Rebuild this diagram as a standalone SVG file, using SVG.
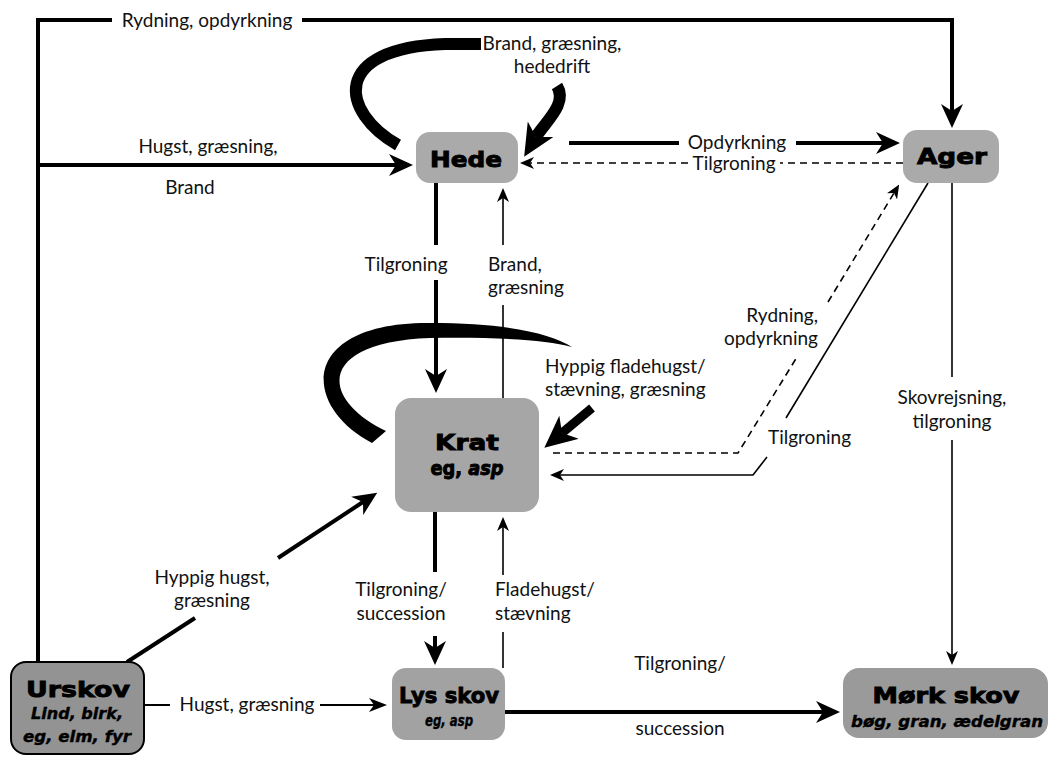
<svg xmlns="http://www.w3.org/2000/svg" width="1056" height="758" viewBox="0 0 1056 758">
<style>
.lbl{font-family:Lato,"Liberation Sans",sans-serif;font-size:19px;fill:#111}
.ttl{font-family:"DejaVu Sans",sans-serif;font-weight:bold;font-size:22px;fill:#000;stroke:#000;stroke-width:0.9}
.sub{font-family:"DejaVu Sans",sans-serif;font-weight:bold;font-style:italic;font-size:15px;fill:#000;stroke:#000;stroke-width:0.4}
.box{stroke:none}
.thick{fill:none;stroke:#000;stroke-width:4}
.med{fill:none;stroke:#000;stroke-width:2}
.thin{fill:none;stroke:#000;stroke-width:1.6}
.dash{fill:none;stroke:#000;stroke-width:1.6;stroke-dasharray:7 5}
</style>
<defs>
<marker id="big" markerUnits="userSpaceOnUse" viewBox="0 0 24 22" markerWidth="24" markerHeight="22" refX="7" refY="11" orient="auto"><path d="M0,0 L24,11 L0,22 L7,11 Z" fill="#000"/></marker>
<marker id="mid" markerUnits="userSpaceOnUse" viewBox="0 0 18 14" markerWidth="18" markerHeight="14" refX="5" refY="7" orient="auto"><path d="M0,0 L18,7 L0,14 L5,7 Z" fill="#000"/></marker>
<marker id="small" markerUnits="userSpaceOnUse" viewBox="0 0 14 12" markerWidth="14" markerHeight="12" refX="4" refY="6" orient="auto"><path d="M0,0 L14,6 L0,12 L4,6 Z" fill="#000"/></marker>
<marker id="huge" markerUnits="userSpaceOnUse" viewBox="0 0 32 30" markerWidth="32" markerHeight="30" refX="9" refY="15" orient="auto"><path d="M0,0 L32,15 L0,30 L9,15 Z" fill="#000"/></marker>
</defs>

<g id="connectors">
  <!-- Rydning, opdyrkning (Urskov -> Ager) -->
  <path class="thick" d="M38,663 V20 H112"/>
  <path class="thick" d="M302,20 H952 V111" marker-end="url(#big)"/>
  <!-- Hugst, græsning, Brand (-> Hede) -->
  <path class="thick" d="M38,165 H396" marker-end="url(#big)"/>
  <!-- Hede self loop -->
  <path d="M398,145 C340,112 330,48 445,44 L481,44" fill="none" stroke="#000" stroke-width="12"/>
  <path d="M557,86 C568,104 545,122 536,137" fill="none" stroke="#000" stroke-width="12" marker-end="url(#huge)"/>
  <!-- Opdyrkning Hede -> Ager -->
  <path class="thick" d="M569,143 H679"/>
  <path class="thick" d="M796,143 H883" marker-end="url(#big)"/>
  <!-- Tilgroning Ager -> Hede (dashed) -->
  <path class="dash" d="M903,163 H780"/>
  <path class="dash" d="M688,163 H530" marker-end="url(#small)"/>
  <!-- Tilgroning Hede -> Krat -->
  <path class="thick" d="M436,183 V245"/>
  <path class="thick" d="M436,280 V376" marker-end="url(#big)"/>
  <!-- Brand, græsning Krat -> Hede -->
  <path class="thin" d="M503,398 V305"/>
  <path class="thin" d="M503,245 V198" marker-end="url(#small)"/>
  <!-- Krat self loop -->
  <path d="M372,443 C300,405 300,322 430,323 C505,323 550,333 572,347 C545,340 500,337 430,338 C318,342 318,398 386,431 Z" fill="#000"/>
  <path d="M592,408 L562,433" fill="none" stroke="#000" stroke-width="9" marker-end="url(#huge)"/>
  <!-- Rydning, opdyrkning Krat -> Ager (dashed) -->
  <path class="dash" d="M553,453 H738 L797,357"/>
  <path class="dash" d="M828,302 L894,193" marker-end="url(#small)"/>
  <!-- Tilgroning Ager -> Krat (solid) -->
  <path class="thin" d="M928,183 L786,418"/>
  <path class="thin" d="M767,457 L753,475 H560" marker-end="url(#small)"/>
  <!-- Skovrejsning Ager -> Mørk skov -->
  <path class="thin" d="M952,183 V377"/>
  <path class="thin" d="M952,440 V655" marker-end="url(#small)"/>
  <!-- Tilgroning/succession Krat -> Lys skov -->
  <path class="thick" d="M435,512 V572"/>
  <path class="thick" d="M435,636 V648" marker-end="url(#big)"/>
  <!-- Fladehugst Lys skov -> Krat -->
  <path class="thin" d="M503,668 V632"/>
  <path class="thin" d="M503,575 V527" marker-end="url(#small)"/>
  <!-- Hyppig hugst Urskov -> Krat -->
  <path class="thick" d="M127,662 L195,618"/>
  <path class="thick" d="M278,558 L363,502" marker-end="url(#big)"/>
  <!-- Hugst, græsning Urskov -> Lys skov -->
  <path class="med" d="M145,705 H170"/>
  <path class="med" d="M320,705 H374" marker-end="url(#mid)"/>
  <!-- Tilgroning/succession Lys skov -> Mørk skov -->
  <path class="thick" d="M505,712 H823" marker-end="url(#big)"/>

  <!-- labels -->
  <text class="lbl" x="207" y="27" text-anchor="middle">Rydning, opdyrkning</text>
  <text class="lbl" x="208" y="153" text-anchor="middle">Hugst, græsning,</text>
  <text class="lbl" x="190" y="194" text-anchor="middle">Brand</text>
  <text class="lbl" x="552" y="50" text-anchor="middle">Brand, græsning,</text>
  <text class="lbl" x="552" y="73" text-anchor="middle">hededrift</text>
  <text class="lbl" x="737" y="149" text-anchor="middle">Opdyrkning</text>
  <text class="lbl" x="734" y="170" text-anchor="middle">Tilgroning</text>
  <text class="lbl" x="406" y="271" text-anchor="middle">Tilgroning</text>
  <text class="lbl" x="488" y="271">Brand,</text>
  <text class="lbl" x="488" y="294">græsning</text>
  <text class="lbl" x="818" y="322" text-anchor="end">Rydning,</text>
  <text class="lbl" x="818" y="345" text-anchor="end">opdyrkning</text>
  <text class="lbl" x="545" y="373">Hyppig fladehugst/</text>
  <text class="lbl" x="545" y="396">stævning, græsning</text>
  <text class="lbl" x="768" y="444">Tilgroning</text>
  <text class="lbl" x="952" y="404" text-anchor="middle">Skovrejsning,</text>
  <text class="lbl" x="952" y="428" text-anchor="middle">tilgroning</text>
  <text class="lbl" x="212" y="584" text-anchor="middle">Hyppig hugst,</text>
  <text class="lbl" x="212" y="607" text-anchor="middle">græsning</text>
  <text class="lbl" x="401" y="596" text-anchor="middle">Tilgroning/</text>
  <text class="lbl" x="401" y="620" text-anchor="middle">succession</text>
  <text class="lbl" x="495" y="596">Fladehugst/</text>
  <text class="lbl" x="495" y="620">stævning</text>
  <text class="lbl" x="247" y="711" text-anchor="middle">Hugst, græsning</text>
  <text class="lbl" x="680" y="670" text-anchor="middle">Tilgroning/</text>
  <text class="lbl" x="680" y="735" text-anchor="middle">succession</text>
</g>

<g id="hede">
  <rect class="box" x="416" y="132" width="102" height="51" rx="14" fill="#aaaaaa"/>
  <text class="ttl" x="466" y="167" text-anchor="middle" textLength="72" lengthAdjust="spacingAndGlyphs">Hede</text>
</g>
<g id="ager">
  <rect class="box" x="903" y="130" width="96" height="53" rx="14" fill="#aaaaaa"/>
  <text class="ttl" x="952" y="164" text-anchor="middle" textLength="70" lengthAdjust="spacingAndGlyphs">Ager</text>
</g>
<g id="krat">
  <rect class="box" x="395" y="398" width="144" height="114" rx="16" fill="#a6a6a6"/>
  <text class="ttl" x="467" y="450" text-anchor="middle" textLength="64" lengthAdjust="spacingAndGlyphs">Krat</text>
  <text class="ttl" x="467" y="475" text-anchor="middle" style="font-size:19px" textLength="73" lengthAdjust="spacingAndGlyphs">eg, <tspan font-style="italic">asp</tspan></text>
</g>
<g id="urskov">
  <rect x="11" y="662" width="133" height="92" rx="15" fill="#939393" stroke="#000" stroke-width="2"/>
  <text class="ttl" x="78" y="697" text-anchor="middle" textLength="104" lengthAdjust="spacingAndGlyphs">Urskov</text>
  <text class="sub" x="77" y="719" text-anchor="middle" textLength="92" lengthAdjust="spacingAndGlyphs">Lind, birk,</text>
  <text class="sub" x="77" y="742" text-anchor="middle" textLength="108" lengthAdjust="spacingAndGlyphs">eg, elm, fyr</text>
</g>
<g id="lys-skov">
  <rect class="box" x="392" y="668" width="113" height="72" rx="14" fill="#a2a2a2"/>
  <text class="ttl" x="449" y="703" text-anchor="middle" textLength="100" lengthAdjust="spacingAndGlyphs">Lys skov</text>
  <text class="sub" x="449" y="726" text-anchor="middle" textLength="48" lengthAdjust="spacingAndGlyphs">eg, asp</text>
</g>
<g id="mork-skov">
  <rect class="box" x="843" y="668" width="205" height="70" rx="16" fill="#9a9a9a"/>
  <text class="ttl" x="946" y="703" text-anchor="middle" textLength="147" lengthAdjust="spacingAndGlyphs">Mørk skov</text>
  <text class="sub" x="947" y="727" text-anchor="middle" textLength="192" lengthAdjust="spacingAndGlyphs">bøg, gran, ædelgran</text>
</g>
</svg>
